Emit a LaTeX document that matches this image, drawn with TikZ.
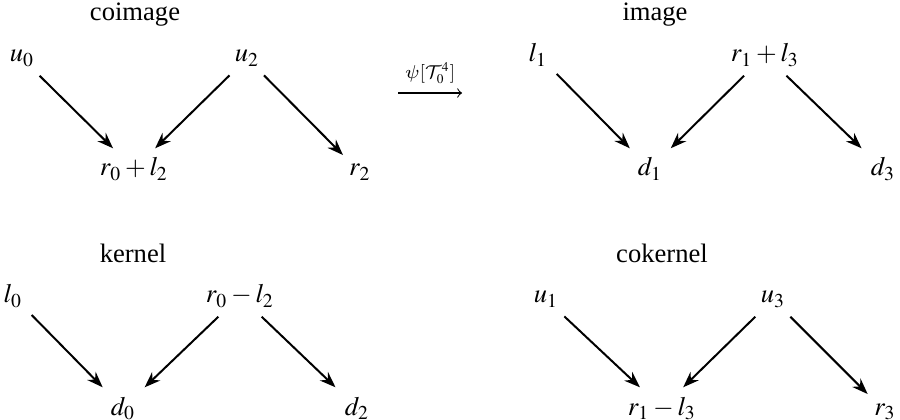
\documentclass[tikz,border=0pt]{standalone}
\usepackage{mathptmx}
\usepackage{fontspec}
\setmainfont{Liberation Serif}
\usepackage{tikz}
\usetikzlibrary{arrows.meta}
\DeclareSymbolFont{cmlett}{OML}{cmm}{m}{it}
\DeclareMathSymbol{\cmpsi}{\mathord}{cmlett}{"20}
\DeclareMathAlphabet{\mathcal}{OMS}{cmsy}{m}{n}

\begin{document}
\begin{tikzpicture}[x=0.376pt,y=-0.376pt,every node/.style={anchor=base},
 arr/.style={-{Stealth[length=6pt,width=4.4pt]},line width=0.75pt}]
\useasboundingbox (0,0) rectangle (900,420);
% coimage
\node (coim) at (135,21) {coimage};
\node (u0) at (22,62) {$u_0$};
\node (u2) at (247,62) {$u_2$};
\node (r0pl2) at (134,176) {$r_0+l_2$};
\node (r2) at (360,176) {$r_2$};
\draw[arr] (u0) -- (r0pl2);
\draw[arr] (u2) -- (r0pl2);
\draw[arr] (u2) -- (r2);
% image
\node (im) at (655,21) {image};
\node (l1) at (538,62) {$l_1$};
\node (r1pl3) at (765,62) {$r_1+l_3$};
\node (d1) at (650,176) {$d_1$};
\node (d3) at (883,176) {$d_3$};
\draw[arr] (l1) -- (d1);
\draw[arr] (r1pl3) -- (d1);
\draw[arr] (r1pl3) -- (d3);
% kernel
\node (ker) at (133,263) {kernel};
\node (l0) at (13,303) {$l_0$};
\node (r0ml2) at (240,303) {$r_0-l_2$};
\node (d0) at (123,415) {$d_0$};
\node (d2) at (357,415) {$d_2$};
\draw[arr] (l0) -- (d0);
\draw[arr] (r0ml2) -- (d0);
\draw[arr] (r0ml2) -- (d2);
% cokernel
\node (coker) at (662,263) {cokernel};
\node (u1) at (546,303) {$u_1$};
\node (u3) at (773,303) {$u_3$};
\node (r1ml3) at (662,415) {$r_1-l_3$};
\node (r3) at (885,415) {$r_3$};
\draw[arr] (u1) -- (r1ml3);
\draw[arr] (u3) -- (r1ml3);
\draw[arr] (u3) -- (r3);
% the map between them
\coordinate (psiL) at (398,93);
\coordinate (psiR) at (462,93);
\draw[-to,line width=0.4pt] (psiL) -- node[above,font=\scriptsize] {$\cmpsi[\mathcal{T}^4_0]$} (psiR);
\end{tikzpicture}
\end{document}
